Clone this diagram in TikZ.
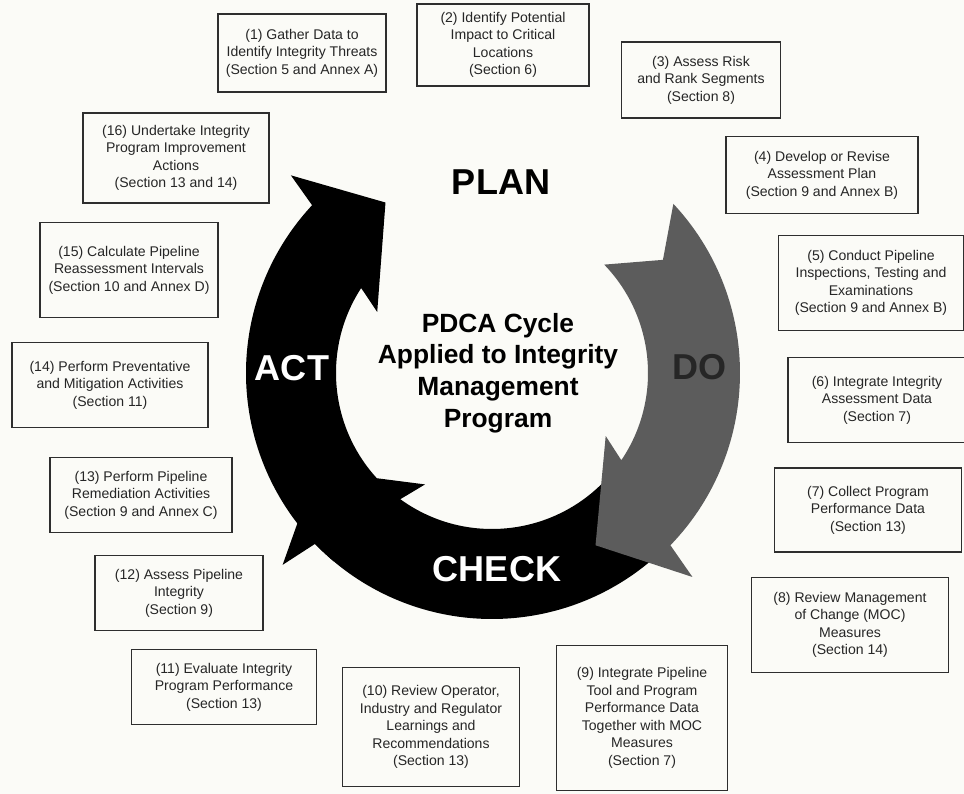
\documentclass[tikz,border=0pt]{standalone}
\usepackage{fontspec}
\setmainfont{Liberation Sans}
\usepackage{tikz}
\definecolor{paper}{HTML}{FBFBF7}
\definecolor{dogray}{HTML}{5C5C5C}
\definecolor{boxline}{HTML}{2E2E2E}

\begin{document}
\begin{tikzpicture}[
  x=0.02cm, y=0.02cm,
  stepB/.style={
    draw=boxline, line width=1.1pt, inner sep=2pt,
    align=center, font=\fontsize{8}{10}\selectfont, text=black!85,
  },
  phase/.style={font=\fontsize{20.5}{24}\selectfont\bfseries},
]

% Page
\fill[paper] (0,0) rectangle (964,794);
\useasboundingbox (0,0) rectangle (964,794);

% Cycle arrows (centre of the ring)
\begin{scope}[shift={(492,421)}]
  % ACT
  \fill[black] (230:246) arc[start angle=230, end angle=137, radius=246]
    -- (135.5:282) -- (122:201) -- (152:130) -- (147:156)
    arc[start angle=147, end angle=230, radius=156] -- cycle;
  % CHECK
  \fill[black] (-38:246) arc[start angle=-38, end angle=-136, radius=246]
    -- (-137.5:284) -- (-151:201) -- (-121:130) -- (-126:156)
    arc[start angle=-126, end angle=-38, radius=156] -- cycle;
  % DO
  \fill[dogray] (43:248) arc[start angle=43, end angle=-44, radius=248]
    -- (-45.5:286) -- (-59:201) -- (-29:130) -- (-34:156)
    arc[start angle=-34, end angle=44, radius=156] -- (33.5:205) -- cycle;
\end{scope}

% Phase labels
\node[phase] (plan) at (501,612) {PLAN};
\node[phase, text=black!85] (do) at (700,427) {DO};
\node[phase, text=white] (check) at (497,225) {CHECK};
\node[phase, text=white] (act) at (292,426) {ACT};
\node[font=\fontsize{15}{18}\selectfont\bfseries, align=center] (title) at (498,421)
  {PDCA Cycle\\Applied to Integrity\\Management\\Program};

% Steps, clockwise from the top
\node[stepB, minimum width=3.36cm, minimum height=1.56cm] (b1) at (302,741)
  {(1) Gather Data to\\Identify Integrity Threats\\(Section 5 and Annex A)};
\node[stepB, minimum width=3.44cm, minimum height=1.64cm] (b2) at (503,749)
  {(2) Identify Potential\\Impact to Critical\\Locations\\(Section 6)};
\node[stepB, minimum width=3.18cm, minimum height=1.52cm] (b3) at (701,714)
  {(3) Assess Risk\\and Rank Segments\\(Section 8)};
\node[stepB, minimum width=3.84cm, minimum height=1.54cm] (b4) at (822,619)
  {(4) Develop or Revise\\Assessment Plan\\(Section 9 and Annex B)};
\node[stepB, minimum width=3.70cm, minimum height=1.90cm] (b5) at (871,511)
  {(5) Conduct Pipeline\\Inspections, Testing and\\Examinations\\(Section 9 and Annex B)};
\node[stepB, minimum width=3.56cm, minimum height=1.70cm] (b6) at (877,394)
  {(6) Integrate Integrity\\Assessment Data\\(Section 7)};
\node[stepB, minimum width=3.74cm, minimum height=1.68cm] (b7) at (868,284)
  {(7) Collect Program\\Performance Data\\(Section 13)};
\node[stepB, minimum width=3.94cm, minimum height=1.90cm] (b8) at (850,169)
  {(8) Review Management\\of Change (MOC)\\Measures\\(Section 14)};
\node[stepB, minimum width=3.42cm, minimum height=2.90cm] (b9) at (642,76)
  {(9) Integrate Pipeline\\Tool and Program\\Performance Data\\Together with MOC\\Measures\\(Section 7)};
\node[stepB, minimum width=3.54cm, minimum height=2.38cm] (b10) at (431,67)
  {(10) Review Operator,\\Industry and Regulator\\Learnings and\\Recommendations\\(Section 13)};
\node[stepB, minimum width=3.70cm, minimum height=1.50cm] (b11) at (224,107)
  {(11) Evaluate Integrity\\Program Performance\\(Section 13)};
\node[stepB, minimum width=3.36cm, minimum height=1.50cm] (b12) at (179,201)
  {(12) Assess Pipeline\\Integrity\\(Section 9)};
\node[stepB, minimum width=3.64cm, minimum height=1.50cm] (b13) at (141,299)
  {(13) Perform Pipeline\\Remediation Activities\\(Section 9 and Annex C)};
\node[stepB, minimum width=3.92cm, minimum height=1.70cm] (b14) at (110,409)
  {(14) Perform Preventative\\and Mitigation Activities\\(Section 11)};
\node[stepB, minimum width=3.56cm, minimum height=1.90cm] (b15) at (129,524)
  {(15) Calculate Pipeline\\Reassessment Intervals\\(Section 10 and Annex D)};
\node[stepB, minimum width=3.72cm, minimum height=1.80cm] (b16) at (176,636)
  {(16) Undertake Integrity\\Program Improvement\\Actions\\(Section 13 and 14)};

\end{tikzpicture}
\end{document}
